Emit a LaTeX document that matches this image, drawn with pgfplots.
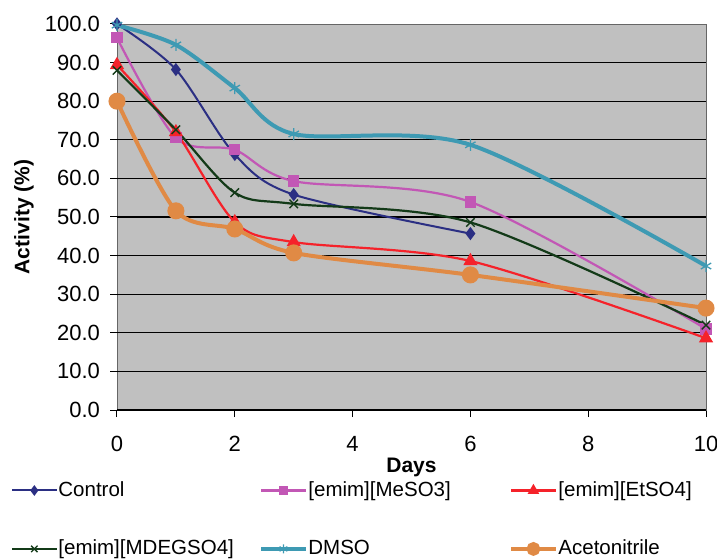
\documentclass[border=0pt]{standalone}
\usepackage{pgfplots}
\pgfplotsset{compat=1.18}
\usepackage{fontspec}
\setmainfont{Liberation Sans}
\definecolor{cCtrl}{HTML}{2B2F83}
\definecolor{cMe}{HTML}{C257B5}
\definecolor{cEt}{HTML}{F5222A}
\definecolor{cMD}{HTML}{133A18}
\definecolor{cDM}{HTML}{3E9AB3}
\definecolor{cAc}{HTML}{E08A45}
\definecolor{bg}{HTML}{C0C0C0}
\begin{document}
\fontsize{20.5}{24}\selectfont
\begin{tikzpicture}
\useasboundingbox (-117pt,-149pt) rectangle (600pt,410pt);
\begin{axis}[
  at={(0,0)}, anchor=south west,
  scale only axis, width=589pt, height=386pt,
  xmin=0, xmax=10, ymin=0, ymax=100,
  xtick={0,2,...,10}, ytick={0,10,...,100},
  extra y ticks={0,10,...,90},
  extra y tick labels={},
  extra y tick style={grid=major, major tick length=0pt},
  major grid style={black, line width=1.3pt},
  axis background/.style={fill=bg},
  axis line style={draw=gray!80!black, line width=0.8pt},
  tick style={black, line width=1pt},
  tick align=outside, major tick length=7pt,
  xtick pos=left, ytick pos=left,
  /pgf/number format/assume math mode=true,
  yticklabel style={xshift=-3pt, /pgf/number format/.cd, fixed, fixed zerofill, precision=1},
  ticklabel style={font=\fontsize{22}{26}\selectfont},
  xticklabel style={yshift=-12pt},
  xlabel={\textbf{Days}}, ylabel={\textbf{Activity (\%)}},
  every axis x label/.style={at={(axis description cs:0.5,-0.15)}, anchor=center, font=\fontsize{21}{25}\selectfont},
  every axis y label/.style={at={(axis description cs:-0.158,0.5)}, anchor=center, rotate=90, font=\fontsize{21}{25}\selectfont},
  legend columns=3,
  legend style={at={(axis description cs:-0.185,-0.177)}, anchor=north west, draw=none, fill=none,
    font=\fontsize{20.5}{24}\selectfont, row sep=38.5pt,
    nodes={text width=200pt, align=left, inner sep=1pt}},
  legend cell align=left,
  legend image code/.code={\draw[mark repeat=2,mark phase=2,/tikz/every mark/.append style={scale=0.75}] plot coordinates {(0pt,0pt) (22pt,0pt) (44pt,0pt)};},
  every axis plot/.append style={smooth, tension=0.5},
  clip=false,
]
\addplot[cCtrl, line width=2pt, mark=diamond*, mark size=5pt, mark options={solid}] coordinates {(0,100) (1,88.2) (2,66.2) (3,55.8) (6,45.7)};
\addlegendentry{Control}
\addplot[cMe, line width=2.2pt, mark=square*, mark size=4.5pt] coordinates {(0,96.4) (1,70.5) (2,67.4) (3,59.3) (6,53.9) (10,21.0)};
\addlegendentry{[emim][MeSO3]}
\addplot[cEt, line width=2.2pt, mark=triangle*, mark size=6pt] coordinates {(0,89.4) (1,72.0) (2,48.7) (3,43.5) (6,38.6) (10,18.6)};
\addlegendentry{[emim][EtSO4]}
\addplot[cMD, line width=2.2pt, mark=x, mark size=6pt, mark options={line width=1.4pt}] coordinates {(0,88.0) (1,72.6) (2,56.3) (3,53.4) (6,48.6) (10,22.0)};
\addlegendentry{[emim][MDEGSO4]}
\addplot[cDM, line width=4pt, mark=asterisk, mark size=6pt, mark options={line width=1.3pt}] coordinates {(0,99.7) (1,94.6) (2,83.4) (3,71.5) (6,68.7) (10,37.3)};
\addlegendentry{DMSO}
\addplot[cAc, line width=4pt, mark=*, mark size=6.5pt] coordinates {(0,80.0) (1,51.6) (2,46.9) (3,40.7) (6,35.0) (10,26.4)};
\addlegendentry{Acetonitrile}
\end{axis}
\end{tikzpicture}
\end{document}
